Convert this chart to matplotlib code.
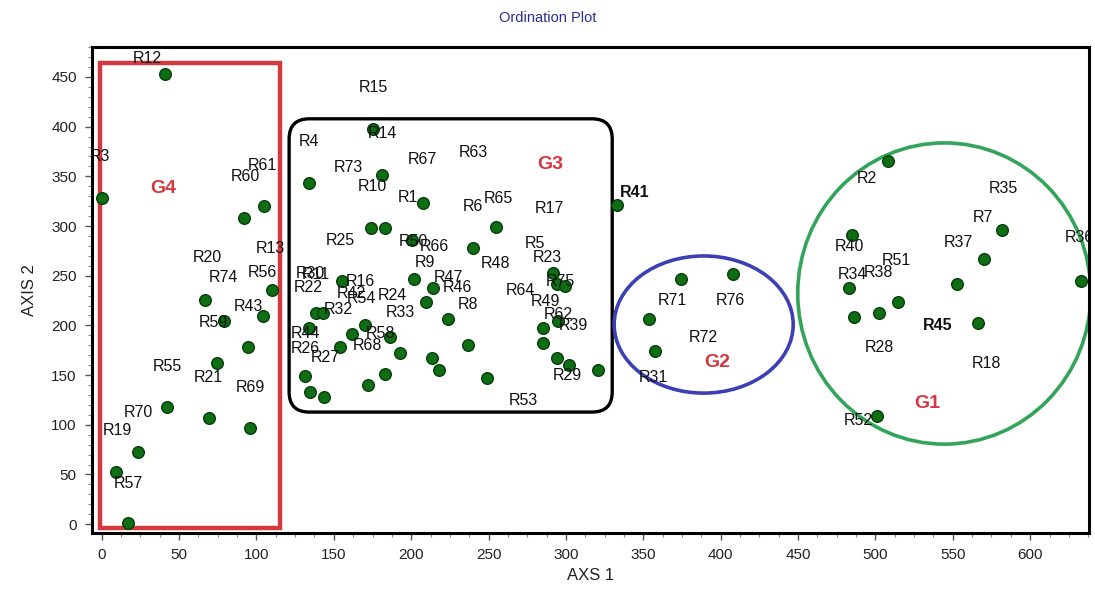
import matplotlib
matplotlib.use("Agg")
import matplotlib.pyplot as plt
from matplotlib import font_manager
from matplotlib.patches import Rectangle, Ellipse, FancyBboxPatch
from matplotlib.ticker import MultipleLocator

# site scores (axis 1, axis 2)
axis1 = [40.9, 0, 92, 104.9, 110.1, 66.8, 104.3, 79.1, 94.6, 74.5, 95.9, 42.2, 69.4, 23.5, 9.3, 17,
         175.4, 134.1, 181.2, 207.7, 254.9, 174.1, 183.1, 200.6, 240, 201.9, 214.2, 155.3, 209.6,
         223.9, 138.5, 143, 291.7, 294.3, 299.5, 295, 285.3, 134.1, 170.3, 161.8, 186.4, 154,
         192.8, 236.8, 285.3, 213.5, 218, 294.3, 302, 320.8, 249, 183.1, 172.1, 131.4, 134.6,
         143.6, 333,
         374.5, 408.1, 353.8, 357.7,
         508.3, 582, 633.1, 570.3, 552.9, 485, 483.1, 514.7, 486.3, 502.5, 566.5, 501.2]
axis2 = [453.2, 328.3, 308.2, 320.2, 235.6, 225.6, 209.5, 204.4, 178.2, 162.1, 96.7, 117.8, 106.7,
         72.5, 52.4, 1,
         397.8, 343.4, 351.5, 323.3, 299.1, 298.1, 298.1, 286, 278, 246.7, 237.7, 244.7, 223.6,
         206.4, 212.5, 212.5, 252.8, 241.7, 239.7, 204.4, 197.4, 197.4, 200.4, 191.3, 188.3,
         178.2, 172.2, 180.3, 182.3, 167.2, 155.1, 167.2, 160.1, 155.1, 147, 151.1, 140, 149,
         132.9, 127.9, 321.2,
         246.7, 251.8, 206.4, 174.2,
         365.6, 296.1, 244.7, 266.9, 241.7, 291, 237.7, 223.6, 208.5, 212.5, 202.4, 108.8]

# site names and where the plot wrote them
site_names = ["R12", "R3", "R60", "R61", "R13", "R20", "R74", "R56", "R43", "R59", "R55", "R21",
              "R69", "R70", "R19", "R57",
              "R15", "R14", "R4", "R73", "R10", "R67", "R63", "R1", "R6", "R65", "R17", "R25",
              "R50", "R66", "R5", "R23", "R48", "R9", "R47", "R46", "R30", "R11", "R22", "R16",
              "R32", "R42", "R54", "R24", "R33", "R8", "R64", "R49", "R75", "R62", "R39", "R44",
              "R26", "R27", "R58", "R68", "R29", "R53",
              "R71", "R76", "R72", "R31",
              "R2", "R35", "R7", "R36", "R37", "R40", "R51", "R34", "R38", "R28", "R18", "R52"]
name_x = [29.3, -1, 92.8, 103.6, 108.8, 68, 78.4, 103.6, 94.6, 72, 42.2, 68.7, 95.9, 23.5, 9.9, 17,
          175.4, 181.2, 134, 159.2, 174.7, 207, 240, 198, 240, 256.2, 289.2, 154,
          201.3, 214.8, 280, 287.9, 254.2, 209, 224, 229.8, 134.6, 138.5, 133.4, 167,
          152.8, 161.5, 168, 187.7, 192.9, 236.8, 270.4, 286.6, 296.3, 295, 304.7, 131.4,
          131.4, 144.3, 179.8, 172, 300.8, 272.4,
          368.7, 406.2, 388.8, 356.4,
          494.7, 582.6, 569.7, 631.5, 553.5, 483.1, 513.5, 485, 501.8, 502.5, 571.6, 488.9]
name_y = [469, 369.6, 349.4, 360.5, 277, 268, 248, 252.8, 219.5, 203.4, 159, 148, 138, 112.8, 94.7,
          41.3,
          439, 392.7, 384.7, 358.5, 339.4, 366.6, 373.6, 328.3, 319.2, 327.3, 317.2, 285,
          284, 279, 282, 268, 262.8, 263.8, 248.7, 237.7, 252.3, 251, 237.7, 243.7,
          216.5, 232, 227, 230.6, 213.5, 221.5, 235.6, 223.6, 243.7, 210.5, 200.4, 192.3,
          177.2, 168.2, 192.3, 180, 150, 124.9,
          224.6, 224.6, 188.3, 148,
          347.4, 337.4, 308.2, 288, 283, 279, 264.9, 250.8, 252.8, 178.2, 162.1, 104.7]
bold_names = ["R41", "R45"]
bold_x = [344.2, 540]
bold_y = [333.3, 200.4]

groups = ["G1", "G2", "G3", "G4"]
group_x = [533.5, 397.8, 289.8, 39.6]
group_y = [121.8, 163, 361.5, 338]

available = {f.name for f in font_manager.fontManager.ttflist}
narrow = "Liberation Sans Narrow" if "Liberation Sans Narrow" in available else "Liberation Sans"

fig = plt.figure(figsize=(10.95, 5.97), dpi=100)
ax = fig.add_axes([0.084, 0.107, 0.9105, 0.814])

ax.scatter(axis1, axis2, s=70, c="#0f6e14", edgecolors="#033d08", linewidths=1.0, zorder=3)

for name, x, y in zip(site_names, name_x, name_y):
    ax.text(x, y, name, ha="center", va="center", fontsize=11.5, family=narrow,
            color="#111111", zorder=4, clip_on=True)
for name, x, y in zip(bold_names, bold_x, bold_y):
    ax.text(x, y, name, ha="center", va="center", fontsize=11.5, family=narrow,
            fontweight="bold", color="#111111", zorder=4)

# group outlines
ax.add_patch(Rectangle((-1.1, -4), 116.4, 468.3, fill=False, ec="#d23a3f", lw=3.2, zorder=2))
ax.add_patch(FancyBboxPatch((121.1, 112.8), 208.8, 295.1, boxstyle="round,pad=0,rounding_size=13",
                            mutation_aspect=1.56, fill=False, ec="black", lw=2.4, zorder=2))
ax.add_patch(Ellipse((389.0, 200.9), 115.7, 138, fill=False, ec="#3c40b4", lw=2.6, zorder=2))
ax.add_patch(Ellipse((544.5, 232.1), 189.4, 303.1, fill=False, ec="#33a45a", lw=2.6, zorder=2))

for g, x, y in zip(groups, group_x, group_y):
    ax.text(x, y, g, ha="center", va="center", fontsize=14, fontweight="bold",
            family="Liberation Sans", color="#d6373f", zorder=4)

ax.set_xlim(-6.3, 638)
ax.set_ylim(-9, 480)
ax.xaxis.set_major_locator(MultipleLocator(50))
ax.xaxis.set_minor_locator(MultipleLocator(12.5))
ax.yaxis.set_major_locator(MultipleLocator(50))
ax.yaxis.set_minor_locator(MultipleLocator(10))
ax.set_xticks(range(0, 601, 50))
ax.set_yticks(range(0, 451, 50))
ax.tick_params(which="major", direction="out", length=5, width=1, color="#555555",
               labelsize=11, pad=6)
ax.tick_params(which="minor", direction="out", length=3, width=0.8, color="#888888")
for lab in ax.get_xticklabels() + ax.get_yticklabels():
    lab.set_family(narrow)
    lab.set_color("#222222")
for sp in ax.spines.values():
    sp.set_linewidth(2.2)

ax.set_xlabel("AXS 1", fontsize=12, family=narrow, color="#222222", labelpad=4)
ax.set_ylabel("AXIS 2", fontsize=12, family=narrow, color="#222222", labelpad=10)
fig.text(0.5, 0.97, "Ordination Plot", ha="center", va="center", fontsize=10.5,
         family=narrow, color="#2b2d8f")

fig.savefig("out.png", dpi=100)
